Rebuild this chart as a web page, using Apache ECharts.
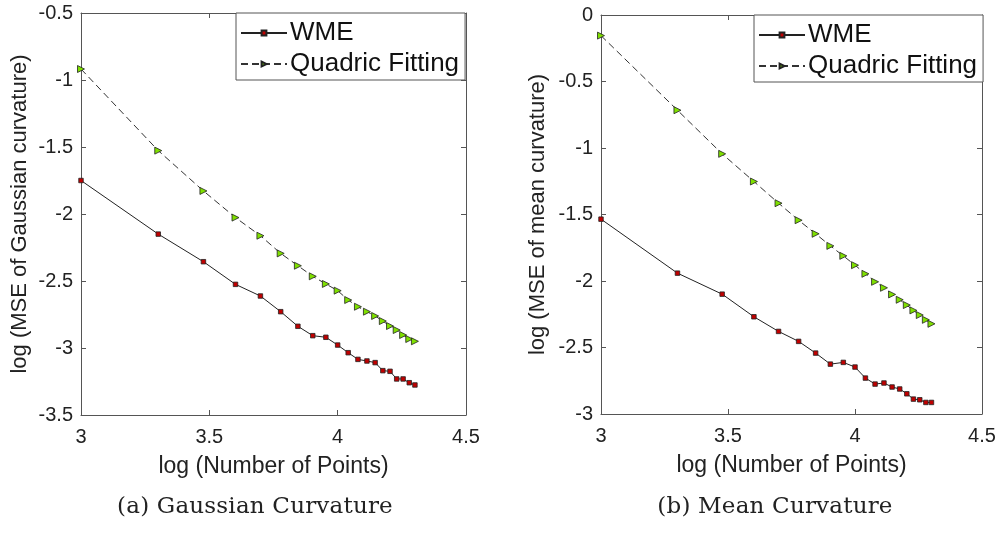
<!DOCTYPE html>
<html><head><meta charset="utf-8">
<script src="https://cdn.jsdelivr.net/npm/echarts@6/dist/echarts.min.js"></script>
<style>html,body{margin:0;padding:0;background:#fff}#c{width:1001px;height:549px}
.cap{position:absolute;top:489px;width:400px;text-align:center;font-family:"DejaVu Serif","Liberation Serif",serif;font-size:23px;letter-spacing:0.2px;color:#222;line-height:32px}</style>
</head><body>
<div id="c"></div>
<script>
// log10 of number of points
const xVals = [3, 3.301, 3.477, 3.602, 3.699, 3.778, 3.845, 3.903, 3.954, 4.0, 4.041, 4.079, 4.114, 4.146, 4.176, 4.204, 4.230, 4.255, 4.279, 4.301];
// (a) Gaussian curvature
const gaussWME = [-1.75, -2.15, -2.356, -2.525, -2.612, -2.729, -2.838, -2.908, -2.92, -2.978, -3.035, -3.085, -3.097, -3.109, -3.169, -3.174, -3.231, -3.231, -3.259, -3.276];
const gaussQuad = [-0.918, -1.527, -1.828, -2.027, -2.162, -2.294, -2.386, -2.465, -2.522, -2.572, -2.642, -2.692, -2.729, -2.761, -2.799, -2.836, -2.866, -2.903, -2.933, -2.95];
// (b) Mean curvature
const meanWME = [-1.535, -1.941, -2.099, -2.269, -2.379, -2.454, -2.542, -2.625, -2.612, -2.647, -2.73, -2.775, -2.767, -2.797, -2.812, -2.848, -2.888, -2.893, -2.913, -2.913];
const meanQuad = [-0.155, -0.716, -1.044, -1.252, -1.415, -1.543, -1.645, -1.736, -1.811, -1.881, -1.946, -2.006, -2.051, -2.101, -2.141, -2.181, -2.221, -2.256, -2.292, -2.322];
const seriesNames = ['WME', 'Quadric Fitting'];
const xName = 'log (Number of Points)';
const yNames = ['log (MSE of Gaussian curvature)', 'log (MSE of mean curvature)'];
const captions = ['(a) Gaussian Curvature', '(b) Mean Curvature'];

const FONT = '"Liberation Sans", Arial, Helvetica, sans-serif';
const AX = '#555';
const pair = (xs, ys) => xs.map((x, i) => [x, ys[i]]);

function xAx(grid, pos, show) {
  return {
    type: 'value', gridIndex: grid, position: pos, min: 3, max: 4.5, interval: 0.5,
    name: show ? xName : '', nameLocation: 'middle', nameGap: 40,
    nameTextStyle: {fontFamily: FONT, fontSize: 23, color: '#222'},
    axisLine: {show: true, onZero: false, lineStyle: {color: AX, width: 1}},
    axisTick: {show: true, inside: true, length: 5, lineStyle: {color: AX}},
    axisLabel: {show: show, fontFamily: FONT, fontSize: 20, color: '#222', margin: 12,
      formatter: v => String(v)},
    splitLine: {show: false}
  };
}
function yAx(grid, pos, show, min, max, name, gap) {
  return {
    type: 'value', gridIndex: grid, position: pos, min: min, max: max, interval: 0.5,
    name: show ? name : '', nameLocation: 'middle', nameGap: gap, nameRotate: 90,
    nameTextStyle: {fontFamily: FONT, fontSize: 22, color: '#222'},
    axisLine: {show: true, onZero: false, lineStyle: {color: AX, width: 1}},
    axisTick: {show: true, inside: true, length: 5, lineStyle: {color: AX}},
    axisLabel: {show: show, fontFamily: FONT, fontSize: 20, color: '#222', margin: 8,
      formatter: v => String(v)},
    splitLine: {show: false}
  };
}
function wme(data, xi, yi) {
  return {name: seriesNames[0], type: 'line', xAxisIndex: xi, yAxisIndex: yi, data: data,
    symbol: 'rect', symbolSize: 4.5, showSymbol: true, silent: true,
    lineStyle: {color: '#222', width: 1},
    itemStyle: {color: '#c00000', borderColor: '#222', borderWidth: 0.8}};
}
function quad(data, xi, yi) {
  return {name: seriesNames[1], type: 'line', xAxisIndex: xi, yAxisIndex: yi, data: data,
    symbol: 'triangle', symbolRotate: -90, symbolSize: 7, showSymbol: true, silent: true,
    lineStyle: {color: '#333', width: 1, type: [7, 4]},
    itemStyle: {color: '#7fe000', borderColor: '#222', borderWidth: 0.8}};
}
function legend(left, top) {
  return {
    left: left, top: top, orient: 'vertical', itemWidth: 46, itemHeight: 6, itemGap: 5,
    padding: [7, 6, 3, 4], borderColor: '#555', borderWidth: 1, backgroundColor: '#fff',
    data: seriesNames, selectedMode: false,
    textStyle: {fontFamily: FONT, fontSize: 26, color: '#111', padding: [0, 0, 0, -2]}
  };
}
const chart = echarts.init(document.getElementById('c'), null, {renderer: 'canvas'});
chart.setOption({
  animation: false,
  backgroundColor: '#fff',
  grid: [
    {left: 81, right: 535, top: 13, bottom: 134},
    {left: 601, right: 19, top: 15, bottom: 135}
  ],
  xAxis: [xAx(0, 'bottom', true), xAx(0, 'top', false), xAx(1, 'bottom', true), xAx(1, 'top', false)],
  yAxis: [yAx(0, 'left', true, -3.5, -0.5, yNames[0], 50), yAx(0, 'right', false, -3.5, -0.5),
          yAx(1, 'left', true, -3, 0, yNames[1], 52), yAx(1, 'right', false, -3, 0)],
  legend: [legend(236, 13), legend(754, 15)],
  series: [
    wme(pair(xVals, gaussWME), 0, 0), quad(pair(xVals, gaussQuad), 0, 0),
    wme(pair(xVals, meanWME), 2, 2), quad(pair(xVals, meanQuad), 2, 2)
  ]
});
const capCenters = [255, 775];
captions.forEach((t, i) => {
  const d = document.createElement('div');
  d.className = 'cap'; d.textContent = t;
  d.style.left = (capCenters[i] - 200) + 'px';
  document.body.appendChild(d);
});
</script>
</body></html>
